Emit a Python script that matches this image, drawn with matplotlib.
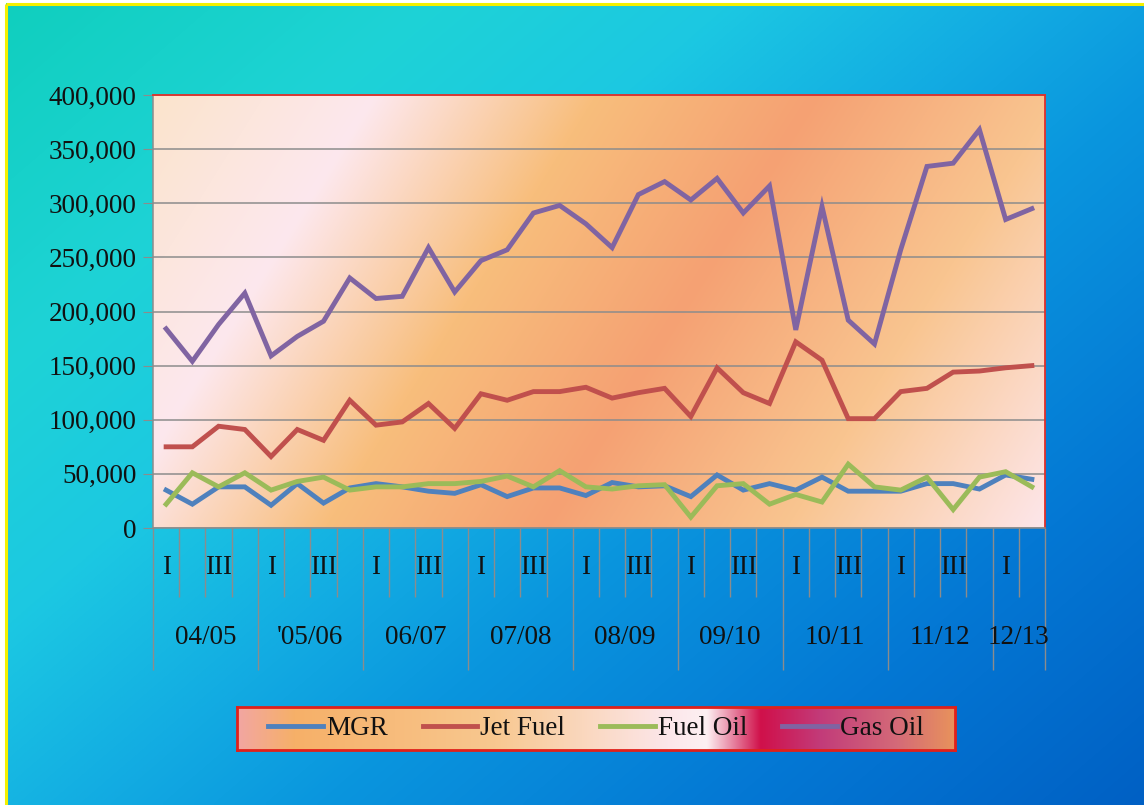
import numpy as np
import matplotlib
matplotlib.use("Agg")
import matplotlib.pyplot as plt
import matplotlib.transforms as mtransforms
from matplotlib.colors import to_rgb
from matplotlib.ticker import FuncFormatter, FixedLocator

# ---------------- data ----------------
years = ["04/05", "'05/06", "06/07", "07/08", "08/09", "09/10", "10/11", "11/12", "12/13"]
quarters_per_year = [4, 4, 4, 4, 4, 4, 4, 4, 2]
quarter_names = ["I", "", "III", ""]
series_names = ["MGR", "Jet Fuel", "Fuel Oil", "Gas Oil"]

mgr = [35000, 22000, 38000, 38000, 21000, 41000, 23000, 37000,
       41000, 38000, 34000, 32000, 40000, 29000, 37000, 37000,
       30000, 42000, 38000, 39000, 29000, 49000, 35000, 41000,
       35000, 47000, 34000, 34000, 34000, 41000, 41000, 36000,
       49000, 45000]
jet_fuel = [75000, 75000, 94000, 91000, 66000, 91000, 81000, 118000,
            95000, 98000, 115000, 92000, 124000, 118000, 126000, 126000,
            130000, 120000, 125000, 129000, 103000, 148000, 125000, 115000,
            172000, 155000, 101000, 101000, 126000, 129000, 144000, 145000,
            148000, 150000]
fuel_oil = [22000, 51000, 38000, 51000, 35000, 43000, 47000, 35000,
            38000, 38000, 41000, 41000, 43000, 48000, 38000, 53000,
            38000, 36000, 39000, 40000, 10000, 39000, 41000, 22000,
            31000, 24000, 59000, 38000, 35000, 47000, 17000, 47000,
            52000, 38000]
gas_oil = [184000, 154000, 188000, 217000, 159000, 177000, 191000, 231000,
           212000, 214000, 259000, 218000, 247000, 257000, 291000, 298000,
           281000, 259000, 308000, 320000, 303000, 323000, 291000, 316000,
           183000, 297000, 192000, 170000, 257000, 334000, 337000, 368000,
           285000, 295000]
series_values = [mgr, jet_fuel, fuel_oil, gas_oil]
series_colors = ["#4f81bd", "#c0504d", "#9bbb59", "#8064a2"]
y_ticks = [0, 50000, 100000, 150000, 200000, 250000, 300000, 350000, 400000]

# ---------------- helpers ----------------
def ramp(t, stops):
    pos = [p for p, _ in stops]
    cols = np.array([to_rgb(c) for _, c in stops])
    return np.stack([np.interp(t, pos, cols[:, k]) for k in range(3)], axis=-1)

plt.rcParams['font.family'] = ['Liberation Serif', 'DejaVu Serif']
FS = 19.5
W, H = 1144, 805
fig = plt.figure(figsize=(W / 100, H / 100), dpi=100)
fig.patch.set_facecolor("white")

# ---------------- figure background ----------------
bg = fig.add_axes([0, 0, 1, 1], zorder=-10)
bg.set_xlim(0, W)
bg.set_ylim(H, 0)
bg.axis("off")
gy, gx = np.mgrid[0:1:200j, 0:1:280j]
t = 0.55 * gx + 0.45 * gy
bg_img = ramp(t, [(0.0, "#10cfbe"), (0.2, "#1ed3d6"), (0.35, "#1cc8e2"),
                  (0.5, "#12aae2"), (0.6, "#0a96de"), (0.8, "#0478d4"),
                  (1.0, "#0060c4")])
bg.imshow(bg_img, extent=(6, W, H, 4), aspect="auto", interpolation="bilinear")
bg.set_xlim(0, W)
bg.set_ylim(H, 0)
bg.plot([6, 6], [4, H], color="#f4f000", lw=2.2, solid_capstyle="butt")
bg.plot([6, W], [4, 4], color="#f4f000", lw=2.2, solid_capstyle="butt")

# ---------------- main axes ----------------
ax = fig.add_axes([153 / W, 1 - 528 / H, 892 / W, 433 / H])
py, px = np.mgrid[0:433:120j, 0:892:240j]
s = (400 * px + 250 * py) / (400 * 892 + 250 * 433)
plot_img = ramp(s, [(0.0, "#fbe4cc"), (0.19, "#fde8ee"), (0.38, "#f8be7c"),
                    (0.57, "#f5a173"), (0.78, "#f9c590"), (1.0, "#fde6ea")])
ax.imshow(plot_img, extent=(0, 1, 0, 1), transform=ax.transAxes,
          aspect="auto", interpolation="bilinear", zorder=0)

x = np.arange(len(gas_oil))
lines = []
for name, vals, col in zip(series_names, series_values, series_colors):
    ln, = ax.plot(x, vals, color=col, lw=3.5, label=name, zorder=3,
                  solid_joinstyle="miter")
    lines.append(ln)

ax.set_xlim(-0.5, len(x) - 0.5)
ax.set_ylim(0, 400000)

ax.set_yticks(y_ticks)
ax.yaxis.set_major_formatter(FuncFormatter(lambda v, p: f"{int(v):,}"))
ax.yaxis.grid(True, color="#8c8c8c", lw=1.1, zorder=1)
ax.tick_params(axis="y", direction="out", length=7, color="#8c8c8c",
               labelsize=FS, pad=5, labelcolor="#111111")

bounds = np.concatenate([[0], np.cumsum(quarters_per_year)]) - 0.5
ax.xaxis.set_major_locator(FixedLocator(bounds))
ax.xaxis.set_minor_locator(FixedLocator(np.arange(len(x) + 1) - 0.5))
ax.tick_params(axis="x", which="major", direction="out", length=102,
               color="#8c8c8c", width=1.0, labelbottom=False)
ax.tick_params(axis="x", which="minor", direction="out", length=50,
               color="#8c8c8c", width=1.0, labelbottom=False)

for side in ["top", "right"]:
    ax.spines[side].set_color("#e0302a")
    ax.spines[side].set_linewidth(1.3)
for side in ["left", "bottom"]:
    ax.spines[side].set_color("#8c8c8c")
    ax.spines[side].set_linewidth(1.1)

trans = mtransforms.blended_transform_factory(ax.transData, ax.transAxes)
i = 0
for yi, (yr, nq) in enumerate(zip(years, quarters_per_year)):
    for q in range(nq):
        if quarter_names[q]:
            ax.text(i + q, -0.092, quarter_names[q], transform=trans,
                    ha="center", va="center", fontsize=FS, color="#111111")
    ax.text(i + (nq - 1) / 2, -0.254, yr, transform=trans,
            ha="center", va="center", fontsize=FS, color="#111111")
    i += nq

# ---------------- legend ----------------
lax = fig.add_axes([237 / W, 1 - 750 / H, 718 / W, 43 / H])
lt = np.linspace(0, 1, 400)[None, :].repeat(4, axis=0)
leg_img = ramp(lt, [(0.0, "#f2a6a2"), (0.08, "#f6b068"), (0.36, "#f8c890"),
                    (0.6, "#fce6ea"), (0.655, "#fdf0f2"), (0.73, "#d0104a"),
                    (0.815, "#c23c7a"), (0.92, "#d46a78"), (1.0, "#e8925c")])
lax.imshow(leg_img, extent=(0, 1, 0, 1), aspect="auto", interpolation="bilinear")
lax.set_xlim(0, 1)
lax.set_ylim(0, 1)
lax.set_xticks([])
lax.set_yticks([])
for sp in lax.spines.values():
    sp.set_color("#e0201a")
    sp.set_linewidth(2.0)
lax.legend(handles=lines, loc="center", ncol=4, frameon=False, fontsize=FS,
           handlelength=2.0, handletextpad=0.12, columnspacing=1.3,
           borderaxespad=0, borderpad=0, labelcolor="#111111")

fig.savefig("out.png", dpi=100)
